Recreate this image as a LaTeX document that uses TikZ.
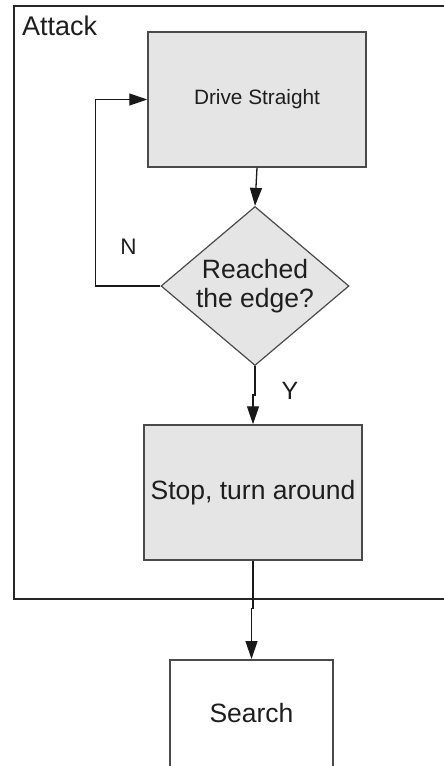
\documentclass[tikz,border=0pt]{standalone}
\usepackage{fontspec}
\setmainfont{Liberation Sans}
\usetikzlibrary{arrows.meta,shapes.geometric}
\definecolor{boxfill}{HTML}{E5E5E5}
\definecolor{boxline}{HTML}{4A4A4A}
\definecolor{txt}{HTML}{1E1E1E}
\tikzset{
  procbox/.style={draw=boxline, line width=1.5pt, fill=boxfill, minimum width=218pt, minimum height=135pt, inner sep=0pt, text=txt},
  plainbox/.style={draw=boxline, line width=1.5pt, fill=white, minimum width=163pt, minimum height=135pt, inner sep=0pt, text=txt},
  decide/.style={draw=boxline, line width=1.2pt, fill=boxfill, diamond, aspect=1.18, minimum width=188pt, minimum height=159pt, inner sep=0pt},
  conn/.style={draw=black!90, line width=1.3pt, -{Triangle[length=18pt,width=12pt]}},
  plainconn/.style={draw=black!90, line width=1.3pt},
  lbl/.style={text=txt, inner sep=0pt},
}
\begin{document}
\begin{tikzpicture}[x=1pt,y=-1pt]
\useasboundingbox (0,0) rectangle (444,766);
% outer frame
\node[draw=black!85, line width=1.8pt, minimum width=480pt, minimum height=593pt, inner sep=0pt, anchor=north west] (frame) at (12.7,5) {};
\node[lbl, anchor=base west, font=\fontsize{27}{30}\selectfont] (attack) at (22,35) {Attack};
% nodes
\node[procbox, font=\fontsize{20.8}{24}\selectfont] (drive) at (257,99.5) {Drive Straight};
\node[decide] (dec) at (255,286) {};
\node[lbl, align=center, font=\fontsize{26.5}{29.5}\selectfont] (dectext) at (255,286) {Reached\\the edge?};
\node[procbox, font=\fontsize{26.5}{30}\selectfont] (stop) at (253,492.5) {Stop, turn around};
\node[plainbox, anchor=north, minimum height=135pt] (search) at (251.5,659) {};
\node[lbl, font=\fontsize{26.5}{30}\selectfont] (searchtext) at (251.5,713) {Search};
% labels
\node[lbl, font=\fontsize{22.5}{26}\selectfont] (nlab) at (128.5,247) {N};
\node[lbl, font=\fontsize{25}{28}\selectfont] (ylab) at (290,391) {Y};
% connectors
\draw[conn] (drive.south) -- (dec.north);
\draw[conn] (dec.west) -- ++(-65,0) |- (drive.west);
\draw[conn] (dec.south) -- ++(0,29) -| (stop.north);
\draw[conn] (stop.south) -- ++(0,48) -| (search.north);
\end{tikzpicture}
\end{document}
